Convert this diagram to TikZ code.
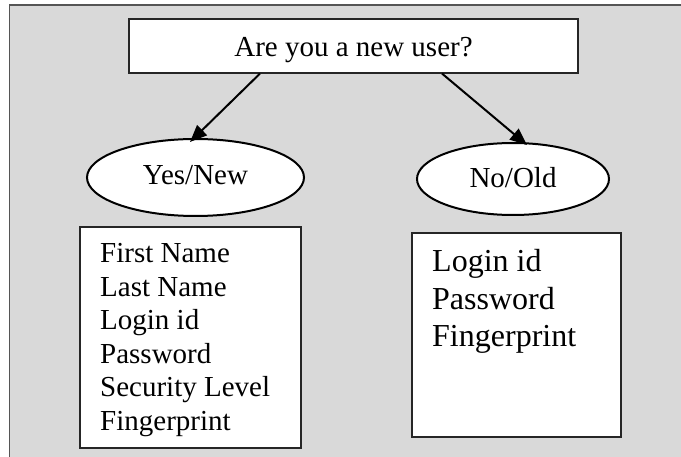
\documentclass[tikz,border=0pt]{standalone}
\usepackage{fontspec}
\setmainfont{Liberation Serif}
\usetikzlibrary{shapes.geometric,arrows.meta}
\definecolor{bggray}{HTML}{D9D9D9}
\definecolor{edgegray}{HTML}{555555}
\begin{document}
\begin{tikzpicture}[x=1pt,y=-1pt,
  box/.style={draw=black!85,line width=1.1pt,fill=white,rectangle,inner sep=0pt},
  oval/.style={draw=black,line width=2pt,fill=white,ellipse,inner sep=0pt,font=\fontsize{29}{33}\selectfont},
  list/.style={inner sep=0pt,anchor=base west},
  arr/.style={line width=2pt,-{Triangle[length=17pt,width=14pt]}}]
\clip (0,0) rectangle (681,457);
\draw[edgegray,line width=1.5pt,fill=bggray] (9.5,5) rectangle (700,480);
\node[box,minimum width=449pt,minimum height=54pt] (q) at (353.5,46) {};
\node[inner sep=0pt,anchor=base,font=\fontsize{29}{33}\selectfont] (qt) at (353.5,57) {Are you a new user?};
\node[oval,minimum width=217pt,minimum height=77pt] (yes) at (195.5,177.5) {};
\node[inner sep=0pt,anchor=base,font=\fontsize{29}{33}\selectfont] (yest) at (195.5,185) {Yes/New};
\node[oval,minimum width=192pt,minimum height=72pt] (no) at (513,179) {};
\node[inner sep=0pt,anchor=base,font=\fontsize{29}{33}\selectfont] (not) at (513,188) {No/Old};
\node[box,minimum width=221pt,minimum height=221pt] (lbox) at (190.5,337.5) {};
\node[box,minimum width=209pt,minimum height=204pt] (rbox) at (516.5,335) {};
\node[list,font=\fontsize{29}{33.5}\selectfont] (ltext) at (100,263)
  {\begin{tabular}[t]{@{}l@{}}First Name\\Last Name\\Login id\\Password\\Security Level\\Fingerprint\end{tabular}};
\node[list,font=\fontsize{32}{37.5}\selectfont] (rtext) at (432,272)
  {\begin{tabular}[t]{@{}l@{}}Login id\\Password\\Fingerprint\end{tabular}};
\draw[arr] ([xshift=-93.5pt]q.south) -- ([xshift=-5.5pt,yshift=-4pt]yes.north);
\draw[arr] ([xshift=88.5pt]q.south) -- ([xshift=14pt,yshift=-3pt]no.north);
\end{tikzpicture}
\end{document}
